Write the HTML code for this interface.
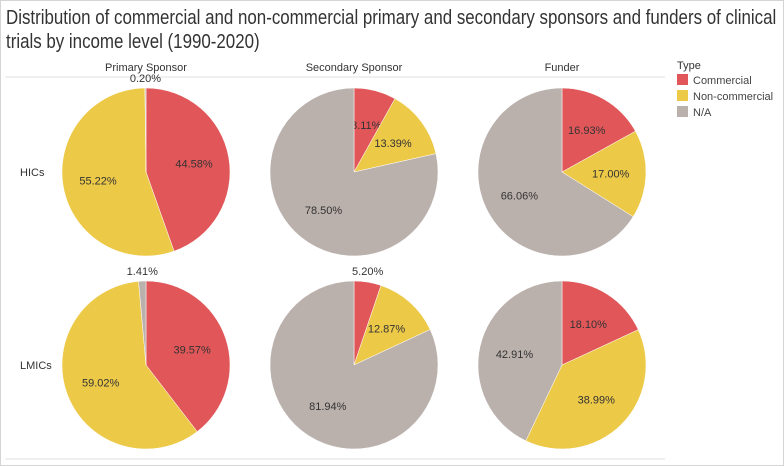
<!DOCTYPE html>
<html><head><meta charset="utf-8"><style>
body{margin:0;width:784px;height:466px;overflow:hidden;background:#fff;font-family:"Liberation Sans",sans-serif}
#frame{position:absolute;left:0;top:0;width:782px;height:464px;border:1px solid #d4d4d4}
.title{position:absolute;left:6px;top:6px;font-size:20px;line-height:24px;color:#333;white-space:nowrap;transform:scaleX(0.845);transform-origin:left top}
</style></head><body>
<div id="frame"></div>
<div class="title">Distribution of commercial and non-commercial primary and secondary sponsors and funders of clinical<br>trials by income level (1990-2020)</div>
<svg id="chart" width="784" height="466" style="position:absolute;left:0;top:0"></svg>
<script>
const columns=["Primary Sponsor","Secondary Sponsor","Funder"];
const rows=["HICs","LMICs"];
const types=["Commercial","Non-commercial","N/A"];
const colors=["#e15759","#edc948","#bab0ac"];
const hicsValues=[[44.58,55.22,0.20],[8.11,13.39,78.50],[16.93,17.00,66.06]];
const lmicsValues=[[39.57,59.02,1.41],[5.20,12.87,81.94],[18.10,38.99,42.91]];
const values=[hicsValues,lmicsValues];
const svg=document.getElementById('chart');
const NS="http://www.w3.org/2000/svg";
const colX=c=>146+c*208, rowY=r=>172+r*193, R=84;
function mk(tag,attrs,txt){const e=document.createElementNS(NS,tag);for(const k in attrs)e.setAttribute(k,attrs[k]);if(txt!=null)e.textContent=txt;svg.appendChild(e);return e;}
columns.forEach((c,i)=>{const t=mk('text',{x:colX(i),y:71,'text-anchor':'middle','font-size':11,fill:'#333'},c);

});
let l=mk('line',{x1:5,x2:665,y1:77,y2:77,stroke:'#e0e0e0'});


l=mk('line',{x1:5,x2:665,y1:459,y2:459,stroke:'#e0e0e0'});


rows.forEach((r,i)=>{const t=mk('text',{x:20,y:rowY(i)+4,'font-size':11,fill:'#333'},r);

});
function pt(cx,cy,rad,frac){const a=frac*2*Math.PI;return[cx+rad*Math.sin(a),cy-rad*Math.cos(a)];}
rows.forEach((rw,ri)=>columns.forEach((cl,ci)=>{
 const cx=colX(ci),cy=rowY(ri),vals=values[ri][ci];const tot=vals.reduce((a,b)=>a+b,0);
 let acc=0;
 vals.forEach((v,k)=>{
  const f0=acc/tot,f1=(acc+v)/tot;acc+=v;
  const p0=pt(cx,cy,R,f0),p1=pt(cx,cy,R,f1);
  const large=(f1-f0)>0.5?1:0;
  const p=mk('path',{d:`M${cx},${cy}L${p0[0]},${p0[1]}A${R},${R} 0 ${large} 1 ${p1[0]},${p1[1]}Z`,fill:colors[k],stroke:'#fff','stroke-width':0.5});
  
  
  const mid=(f0+f1)/2;let lx,ly;
  if(v<6){const q=pt(cx,cy,R,mid);lx=q[0];ly=cy-R-6;}
  else{const q=pt(cx,cy,R*0.58,mid);lx=q[0];ly=q[1]+4;}
  const t=mk('text',{x:lx,y:ly,'text-anchor':'middle','font-size':11,fill:'#333'},v.toFixed(2)+'%');
  
  
 });
}));
let t=mk('text',{x:677,y:69,'font-size':11,fill:'#333'},'Type');


types.forEach((ty,k)=>{
 const r=mk('rect',{x:677,y:74+k*16,width:11,height:11,fill:colors[k]});
 
 
 const tx=mk('text',{x:693,y:84+k*16,'font-size':11,fill:'#444'},ty);
 
 
});
</script>
</body></html>
